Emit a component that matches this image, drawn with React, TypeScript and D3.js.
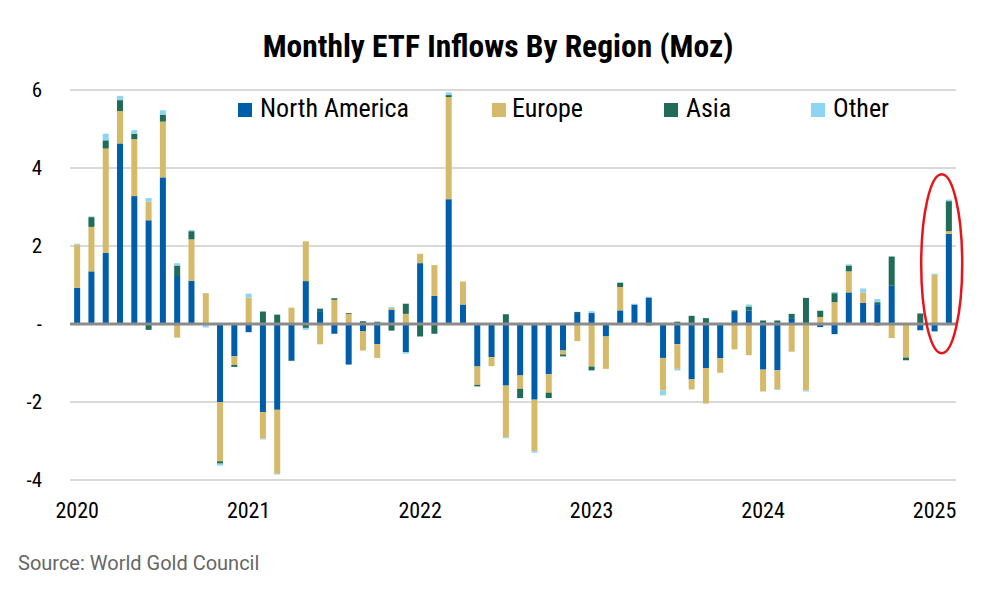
import React from "react";
import * as d3 from "d3";

// one entry per month, Jan 2020 .. Feb 2025
const years: number[] = [2020, 2021, 2022, 2023, 2024, 2025];
const monthsInLastYear = 2;

// Moz
const northAmerica: number[] = [
  0.93, 1.35, 1.82, 4.63, 3.28, 2.66, 3.76, 1.23, 1.11, 0, -2.0, -0.83,
  -0.21, -2.26, -2.2, -0.93, 1.1, 0.31, -0.25, -1.04, -0.19, -0.52, 0.37, -0.72,
  1.56, 0.72, 3.2, 0.5, -1.09, -0.85, -1.58, -1.32, -1.94, -1.29, -0.68, 0.28,
  0.28, -0.32, 0.35, 0.5, 0.68, -0.87, -0.52, -1.42, -1.13, -0.88, 0.31, 0.35,
  -1.17, -1.19, 0.15, 0.02, -0.08, -0.26, 0.81, 0.54, 0.51, 0.98, 0, -0.16,
  -0.19, 2.31,
];
const europe: number[] = [
  1.1, 1.14, 2.68, 0.83, 1.46, 0.48, 1.43, -0.35, 1.06, 0.79, -1.52, -0.22,
  0.68, -0.68, -1.64, 0.42, 1.02, -0.52, 0.62, 0.26, -0.49, -0.35, 0.04, 0.26,
  0.24, 0.79, 2.62, 0.59, -0.47, -0.23, -1.32, -0.34, -1.32, -0.47, -0.1, -0.44,
  -1.09, -0.83, 0.6, 0, -0.05, -0.83, -0.63, -0.26, -0.91, -0.37, -0.65, -0.8,
  -0.56, -0.48, -0.71, -1.7, 0.18, 0.56, 0.54, 0.26, -0.05, -0.36, -0.86, 0,
  1.26, 0.07,
];
const asia: number[] = [
  0, 0.25, 0.21, 0.28, 0.14, -0.15, 0.18, 0.27, 0.21, 0, -0.06, -0.05,
  0, 0.32, 0.24, -0.02, -0.1, 0.08, 0.04, 0.02, 0.07, 0.05, -0.17, 0.26,
  -0.32, -0.25, 0.05, 0, -0.04, 0, 0.25, -0.24, 0, -0.14, -0.05, 0.03,
  -0.1, 0, 0.11, 0, 0, 0, 0.06, 0.21, 0.15, 0, 0.04, 0.1,
  0.09, 0.09, 0.11, 0.65, 0.16, 0.23, 0.15, 0, 0.05, 0.75, -0.07, 0.27,
  0, 0.77,
];
const other: number[] = [
  0.03, 0.02, 0.17, 0.11, 0.09, 0.09, 0.11, 0.06, 0.03, -0.09, -0.05, 0,
  0.1, -0.02, -0.02, 0, -0.05, 0.02, 0, 0, 0, 0.02, 0.02, -0.04,
  0, 0, 0.07, 0, 0, 0, -0.03, 0, -0.04, 0, 0, 0,
  0.05, 0, 0, 0.02, 0.02, -0.13, -0.04, 0, 0, 0.03, 0, 0.05,
  0, -0.02, 0, -0.03, 0, 0.03, 0.03, 0.11, 0.08, 0, 0, 0,
  0.03, 0.04,
];

const seriesNames: string[] = ["North America", "Europe", "Asia", "Other"];
const seriesColors: string[] = ["#005DAA", "#D4BA6A", "#216B59", "#8DD5F2"];
const yTicks: number[] = [-4, -2, 0, 2, 4, 6];
// red ring round the last two months (Moz range it covers)
const highlightRange: [number, number] = [-0.75, 3.84];

const width = 995;
const height = 598;
const font = "'Roboto Condensed', 'Liberation Sans Narrow', 'DejaVu Sans Condensed', Roboto, sans-serif";

type Row = { month: string; [key: string]: number | string };

const App = (): React.JSX.Element => {
  const months: string[] = years
    .flatMap((yr) => d3.range(12).map((m) => `${yr}-${String(m + 1).padStart(2, "0")}`))
    .slice(0, (years.length - 1) * 12 + monthsInLastYear);

  const columns = [northAmerica, europe, asia, other];
  const rows: Row[] = months.map((month, i) => {
    const r: Row = { month };
    seriesNames.forEach((name, s) => (r[name] = columns[s][i]));
    return r;
  });

  const stacked = d3
    .stack<Row>()
    .keys(seriesNames)
    .value((d, key) => d[key] as number)
    .order(d3.stackOrderNone)
    .offset(d3.stackOffsetDiverging)(rows);

  const x = d3.scaleBand<string>().domain(months).range([70, 956]).paddingInner(0.58).paddingOuter(0.29);
  const y = d3.scaleLinear([-4, 6], [480, 90]);

  const last = months.slice(-2);
  const ringCx = ((x(last[0]) as number) + (x(last[1]) as number) + x.bandwidth()) / 2;
  const ringTop = y(highlightRange[1]);
  const ringBottom = y(highlightRange[0]);

  const legendX = [238, 492, 664, 811];

  return (
    <svg
      width={width}
      height={height}
      style={{ position: "absolute", left: 0, top: 0, background: "#fff" }}
      fontFamily={font}
    >
      <text x={498} y={57} textAnchor="middle" fontSize={31.5} fontWeight="bold" fill="#000">
        Monthly ETF Inflows By Region (Moz)
      </text>

      {yTicks
        .filter((t) => t !== 0)
        .map((t) => (
          <line key={t} x1={70} x2={956} y1={y(t)} y2={y(t)} stroke="#d9d9d9" strokeWidth={2} />
        ))}
      {yTicks.map((t) => (
        <text key={t} x={42} y={y(t)} dy="0.35em" textAnchor="end" fontSize={21} fill="#000">
          {t === 0 ? "-" : t}
        </text>
      ))}

      {stacked.map((layer, s) => (
        <g key={layer.key} fill={seriesColors[s]}>
          {layer.map((d, i) => (
            <rect
              key={i}
              x={x(d.data.month)}
              y={y(Math.max(d[0], d[1]))}
              width={x.bandwidth()}
              height={Math.abs(y(d[0]) - y(d[1]))}
            />
          ))}
        </g>
      ))}

      <line x1={70} x2={956} y1={y(0)} y2={y(0)} stroke="#8c8c8c" strokeWidth={3} />

      {years.map((yr) => {
        const m = `${yr}-01`;
        return (
          <text
            key={yr}
            x={(x(m) as number) + x.bandwidth() / 2}
            y={518}
            textAnchor="middle"
            fontSize={22}
            fill="#000"
          >
            {yr}
          </text>
        );
      })}

      {seriesNames.map((name, s) => (
        <g key={name} transform={`translate(${legendX[s]},103)`}>
          <rect width={14} height={14} fill={seriesColors[s]} />
          <text x={s === 1 ? 20 : 22} y={14} fontSize={26} fill="#000">
            {name}
          </text>
        </g>
      ))}

      <ellipse
        cx={ringCx}
        cy={(ringTop + ringBottom) / 2}
        rx={20.5}
        ry={(ringBottom - ringTop) / 2}
        fill="none"
        stroke="#e8141b"
        strokeWidth={2.5}
      />

      <text x={18} y={570} fontSize={20} fill="#666" fontFamily="Roboto, sans-serif">
        Source: World Gold Council
      </text>
    </svg>
  );
};

export default App;
